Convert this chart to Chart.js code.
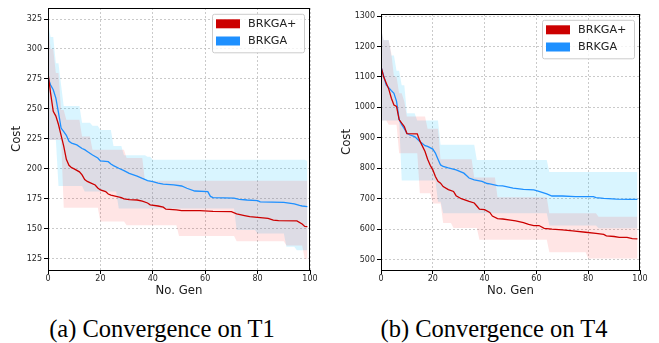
<!DOCTYPE html>
<html>
<head>
<meta charset="utf-8">
<script src="https://cdn.jsdelivr.net/npm/chart.js@4.4.0/dist/chart.umd.min.js"></script>
<style>
  body { margin: 0; background: #fff; width: 659px; height: 343px; overflow: hidden; position: relative; }
  canvas { position: absolute; top: 0; }
  #chart-t1 { left: 0; }
  #chart-t4 { left: 330px; }
  .caption { position: absolute; top: 317px; width: 330px; text-align: center; font: 24.5px/1 'Liberation Serif', 'Times New Roman', serif; color: #000; white-space: nowrap; }
</style>
</head>
<body>
<canvas id="chart-t1" width="322" height="300"></canvas>
<canvas id="chart-t4" width="322" height="300"></canvas>
<div class="caption" style="left:-3px">(a) Convergence on T1</div>
<div class="caption" style="left:329px">(b) Convergence on T4</div>
<script>
// ===== values, as [generation, cost] =====
// band arrays hold the generation where each step lands and the new value
const seriesNames = ['BRKGA+', 'BRKGA'];
const genTicks = [0, 20, 40, 60, 80, 100];

// T1
const t1CostTicks = [125, 150, 175, 200, 225, 250, 275, 300, 325];
const t1PlusMean = [[0,280],[1,263],[2,248],[3,244],[4,237],[5,228],[6,219],[7,208],[8,203],[9,201],[10,200],[12,197.5],[13,195],[14,191],[15,189.5],[16,188.5],[18,186.5],[19,184],[20,182.4],[22,181],[23,179],[24,178],[26,177],[28,176],[29,175],[31,174.3],[34,174],[36,173],[38,171.5],[39,170],[42,169],[44,168],[45,166.3],[49,165.7],[51,165.1],[58,165.1],[63,164.5],[70,164.3],[72,162.5],[75,161],[77,160.1],[80,159.5],[84,158.7],[86,157.3],[88,156.8],[95,156.6],[97,154],[98,152],[99,151.8]];
const t1PlusHigh = [[0,322],[1,300],[3,280],[5,249],[7,241],[13,227],[17,216],[30,209],[37,190],[99,190]];
const t1PlusLow = [[0,224],[6,167.5],[20,156],[30,153],[50,144],[72,139.5],[91,136],[98,125],[99,125]];
const t1BaseMean = [[0,276],[1,270],[2,266],[3,259],[4,247],[5,234],[6,231],[7,228],[8,223],[9,221.5],[11,220],[13,217],[14,216],[15,214.5],[17,211.5],[19,209],[20,206.6],[23,206],[24,204],[25,202.7],[27,200.5],[29,198.5],[31,196.3],[34,194],[36,192],[38,190.2],[40,189.3],[42,188],[44,187.3],[48,186.6],[51,185.7],[53,183.8],[56,181.5],[61,181],[62,177],[63,176],[71,175.5],[73,174.6],[76,174],[80,173.5],[81,172.4],[90,172],[94,170.8],[96,169.5],[97,169],[99,168.5]];
const t1BaseHigh = [[0,322],[1,310],[3,288],[5,270],[6,252.5],[13,238.5],[17,236],[20,232.4],[25,219],[29,211.3],[38,210],[40,207.5],[99,206.5]];
const t1BaseLow = [[0,224],[4,185.6],[14,181],[27,167],[72,149],[80,146],[91,135],[95,132],[99,132]];

// T4
const t4CostTicks = [500, 600, 700, 800, 900, 1000, 1100, 1200, 1300];
const t4PlusMean = [[0,1134],[1,1101],[2,1080],[3,1060],[4,1030],[5,1008],[6,1003],[7,960],[8,948],[9,937],[10,914],[14,913],[15,890],[17,855],[18,830],[19,810],[20,795],[21,773],[22,757],[23,751],[24,740],[26,730],[28,724],[29,710],[31,700],[34,691],[36,686],[37,676],[38,666],[40,664],[42,655],[43,643],[45,635],[47,633.5],[50,630],[52,627],[55,621.5],[57,616],[59,612],[61,612],[63,603],[66,600],[70,598],[74,594.5],[79,590],[83,586],[86,583],[87,578],[90,576],[92,573],[95,573],[97,569],[99,568]];
const t4PlusHigh = [[0,1260],[1,1220],[4,1178],[5,1101],[7,1046],[9,1019],[10,970],[18,930],[23,830],[36,770],[45,705],[65,652],[84,641],[99,641]];
const t4PlusLow = [[0,957],[3,943],[7,849],[15,718],[20,684],[24,620],[28,604],[38,565],[65,524],[80,504],[99,504]];
const t4BaseMean = [[0,1134],[2,1074],[4,1055],[5,1046],[6,1020],[7,960],[8,943],[9,930],[10,915],[11,910],[13,904],[15,888],[17,874],[18,872],[20,863],[21,850],[22,830],[23,811],[24,806],[26,801],[29,795],[32,784],[33,776],[34,768],[36,762],[39,757],[41,750],[42,748.5],[45,743],[47,742],[51,735],[55,731],[59,729],[61,724],[64,716],[66,709],[70,709],[75,707],[82,707],[83,703.5],[86,701],[91,699],[96,698],[99,698]];
const t4BaseHigh = [[0,1260],[1,1221],[4,1170],[6,1120],[8,1073],[10,981],[14,957],[23,877],[37,827],[65,788],[99,788]];
const t4BaseLow = [[0,957],[8,760],[22,690],[24,652],[65,612],[84,603],[99,603]];

const RED = '#cc0000', BLUE = '#1e90ff';
const RED_BAND = 'rgba(255,0,0,0.1)', BLUE_BAND = 'rgba(0,191,255,0.15)';
const GRID = '#bdbdbd';
const NONE = 'rgba(0,0,0,0)';

Chart.defaults.font.family = "'DejaVu Sans', sans-serif";
Chart.defaults.color = '#262626';

const pts = arr => arr.map(([x, y]) => ({ x, y }));
// a step at generation g means the previous value still holds at g - 1
const steps = arr => {
  const out = [];
  arr.forEach(([g, v], i) => {
    if (i > 0 && g - 1 > arr[i - 1][0]) out.push({ x: g - 1, y: arr[i - 1][1] });
    out.push({ x: g, y: v });
  });
  return out;
};

// axes box + legend in the upper right, matplotlib style
const boxPlugin = {
  id: 'boxLegend',
  afterDraw(chart, args, opts) {
    const { ctx, chartArea: a } = chart;
    ctx.save();
    ctx.strokeStyle = '#000';
    ctx.lineWidth = 1;
    const l = Math.round(a.left) + 0.5, t = Math.round(a.top) + 0.5;
    const r = Math.round(a.right) - 0.5, b = Math.round(a.bottom) + 0.5;
    ctx.strokeRect(l, t, r - l, b - t);

    // legend
    const w = 92, h = 38.5;
    const bx = a.right - 6 - w, by = a.top + 5.8;
    ctx.fillStyle = 'rgba(255,255,255,0.8)';
    ctx.strokeStyle = '#cccccc';
    ctx.beginPath();
    ctx.roundRect(bx + 0.5, by + 0.5, w, h, 2);
    ctx.fill();
    ctx.stroke();
    ctx.font = "11.2px 'DejaVu Sans', sans-serif";
    ctx.textBaseline = 'middle';
    seriesNames.forEach((name, i) => {
      const cy = by + 10 + i * 17.2;
      ctx.fillStyle = opts.colors[i];
      ctx.fillRect(bx + 4, cy - 4.5, 24, 9);
      ctx.fillStyle = '#222';
      ctx.fillText(name, bx + 36, cy + 0.5);
    });
    ctx.restore();
  }
};

function makeChart(id, cfg) {
  const band = (data, color, fill) => ({
    data: steps(data), borderColor: NONE, borderWidth: 1,
    backgroundColor: color || NONE, fill
  });
  return new Chart(document.getElementById(id), {
    type: 'line',
    data: {
      datasets: [
        { data: pts(cfg.plusMean), borderColor: RED, borderWidth: 1.3, fill: false },
        { data: pts(cfg.baseMean), borderColor: BLUE, borderWidth: 1.3, fill: false },
        band(cfg.plusHigh, RED_BAND, '+1'),
        band(cfg.plusLow, null, false),
        band(cfg.baseHigh, BLUE_BAND, '+1'),
        band(cfg.baseLow, null, false)
      ]
    },
    options: {
      responsive: false,
      animation: false,
      events: [],
      layout: { padding: { top: cfg.top, right: 12, left: 0, bottom: 0 } },
      elements: { point: { radius: 0 }, line: { tension: 0 } },
      plugins: { legend: { display: false }, tooltip: { enabled: false }, boxLegend: { colors: [RED, BLUE] } },
      scales: {
        x: {
          type: 'linear', min: 0, max: 100,
          afterBuildTicks: s => { s.ticks = genTicks.map(v => ({ value: v })); },
          afterFit: s => { s.height = 30; },
          grid: { color: GRID, lineWidth: 0.8, tickLength: 4, tickColor: '#000', tickWidth: 1 },
          border: { display: false, dash: [2, 2] },
          ticks: { padding: 0, font: { size: 8 }, maxRotation: 0, autoSkip: false, callback: v => String(v) },
          title: { display: true, text: 'No. Gen', color: '#1a1a1a', font: { size: 11.7 }, padding: { top: 0, bottom: 2 } }
        },
        y: {
          type: 'linear', min: cfg.yMin, max: cfg.yMax,
          afterBuildTicks: s => { s.ticks = cfg.yTicks.map(v => ({ value: v })); },
          afterFit: s => { s.width = cfg.yWidth; },
          grid: { color: GRID, lineWidth: 0.8, tickLength: 4, tickColor: '#000', tickWidth: 1 },
          border: { display: false, dash: [2, 2] },
          ticks: { padding: 2, font: { size: 8 }, autoSkip: false, callback: v => String(v) },
          title: { display: true, text: 'Cost', color: '#1a1a1a', font: { size: 11.7 }, padding: { top: cfg.titlePad, bottom: 0 } }
        }
      }
    },
    plugins: [boxPlugin]
  });
}

makeChart('chart-t1', {
  plusMean: t1PlusMean, plusHigh: t1PlusHigh, plusLow: t1PlusLow,
  baseMean: t1BaseMean, baseHigh: t1BaseHigh, baseLow: t1BaseLow,
  yTicks: t1CostTicks, yMin: 115.6, yMax: 334.2, top: 8, yWidth: 48, titlePad: 10.4
});
makeChart('chart-t4', {
  plusMean: t4PlusMean, plusHigh: t4PlusHigh, plusLow: t4PlusLow,
  baseMean: t4BaseMean, baseHigh: t4BaseHigh, baseLow: t4BaseLow,
  yTicks: t4CostTicks, yMin: 466, yMax: 1306.6, top: 14, yWidth: 51, titlePad: 9.7
});
</script>
</body>
</html>
